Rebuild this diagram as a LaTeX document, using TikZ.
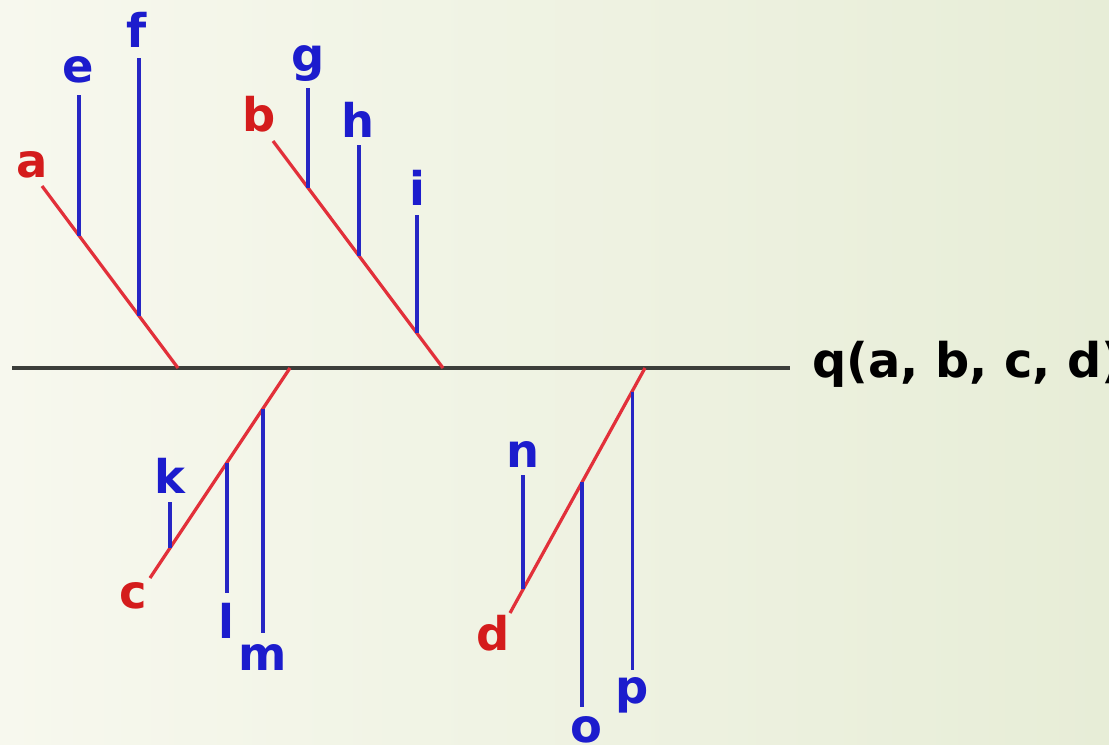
\documentclass[tikz,border=0pt]{standalone}
\usepackage{fontspec}
\setmainfont{DejaVu Sans}
\usepackage{xcolor}
\usepackage{tikz}
\usetikzlibrary{calc}

\definecolor{bgleft}{RGB}{247,248,238}
\definecolor{bgright}{RGB}{231,237,215}
\definecolor{axisgray}{RGB}{60,62,58}
\definecolor{branchred}{RGB}{226,48,58}
\definecolor{ribblue}{RGB}{38,38,196}
\definecolor{labred}{RGB}{212,28,28}
\definecolor{labblue}{RGB}{28,28,205}

\begin{document}
\begin{tikzpicture}[x=0.025cm,y=-0.025cm,
  axis/.style={draw=axisgray,line width=3pt},
  branch/.style={draw=branchred,line width=2.3pt},
  rib/.style={draw=ribblue,line width=2.2pt},
  lab/.style={anchor=base,inner sep=0pt,font=\bfseries\fontsize{33}{40}\selectfont},
  redlab/.style={lab,text=labred},
  bluelab/.style={lab,text=labblue}]
\useasboundingbox (0,0) rectangle (1109,744);
\shade[left color=bgleft,right color=bgright] (0,0) rectangle (1109,744);
% main line
\coordinate (q0) at (12,368);
\coordinate (q1) at (790,368);
\draw[axis] (q0) -- (q1);
\node[lab,anchor=base west,text=black,font=\bfseries\fontsize{34}{40}\selectfont] (qlab) at (812,377) {q(a, b, c, d)};
% upper branches
\coordinate (ta) at (42,186);
\coordinate (ja) at (178,368);
\coordinate (tb) at (273,141);
\coordinate (jb) at (443,368);
\draw[branch] (ta) -- (ja);
\draw[branch] (tb) -- (jb);
% lower branches
\coordinate (jc) at (290,368);
\coordinate (tc) at (150,578);
\coordinate (jd) at (645,368);
\coordinate (td) at (510,613);
\draw[branch] (jc) -- (tc);
\draw[branch] (jd) -- (td);
% ribs
\coordinate (je) at ($(ta)!0.272!(ja)$);
\coordinate (jf) at ($(ta)!0.713!(ja)$);
\coordinate (jg) at ($(tb)!0.206!(jb)$);
\coordinate (jh) at ($(tb)!0.506!(jb)$);
\coordinate (ji) at ($(tb)!0.847!(jb)$);
\coordinate (jk) at ($(jc)!0.857!(tc)$);
\coordinate (jl) at ($(jc)!0.45!(tc)$);
\coordinate (jm) at ($(jc)!0.193!(tc)$);
\coordinate (jn) at ($(jd)!0.904!(td)$);
\coordinate (jo) at ($(jd)!0.467!(td)$);
\coordinate (jp) at ($(jd)!0.096!(td)$);
\coordinate (te) at (79,95);
\coordinate (tf) at (139,58);
\coordinate (tg) at (308,88);
\coordinate (th) at (359,145);
\coordinate (ti) at (417,215);
\coordinate (tk) at (170,502);
\coordinate (tl) at (227,593);
\coordinate (tm) at (263,633);
\coordinate (tn) at (523,475);
\coordinate (to) at (582,707);
\coordinate (tp) at (632,670);
\draw[rib] (je) -- (je |- te);
\draw[rib] (jf) -- (jf |- tf);
\draw[rib] (jg) -- (jg |- tg);
\draw[rib] (jh) -- (jh |- th);
\draw[rib] (ji) -- (ji |- ti);
\draw[rib] (jk) -- (jk |- tk);
\draw[rib] (jl) -- (jl |- tl);
\draw[rib] (jm) -- (jm |- tm);
\draw[rib] (jn) -- (jn |- tn);
\draw[rib] (jo) -- (jo |- to);
\draw[rib] (jp) -- (jp |- tp);
% labels
\node[redlab] (a) at (32,177) {a};
\node[redlab] (b) at (259,131) {b};
\node[redlab] (c) at (133,608) {c};
\node[redlab] (d) at (493,650) {d};
\node[bluelab] (e) at (78,82) {e};
\node[bluelab] (f) at (137,47) {f};
\node[bluelab] (g) at (308,71) {g};
\node[bluelab] (h) at (358,137) {h};
\node[bluelab] (i) at (417,205) {i};
\node[bluelab] (k) at (170,493) {k};
\node[bluelab] (l) at (226,638) {l};
\node[bluelab] (m) at (263,670) {m};
\node[bluelab] (n) at (523,467) {n};
\node[bluelab] (o) at (586,742) {o};
\node[bluelab] (p) at (632,703) {p};
\end{tikzpicture}
\end{document}
